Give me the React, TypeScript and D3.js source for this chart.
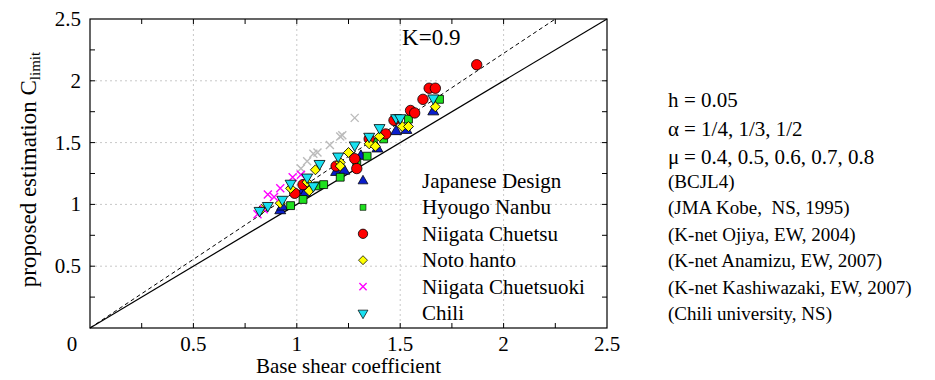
import { useEffect, useRef } from 'react';
import * as d3 from 'd3';

type Pt = [number, number];

// Base shear coefficient vs proposed estimation C_limit
const japaneseDesign: Pt[] = [
  [0.92, 0.95], [0.93, 0.98], [1.03, 1.11], [1.04, 1.09], [1.19, 1.26], [1.23, 1.27],
  [1.31, 1.39], [1.39, 1.45], [1.48, 1.59], [1.53, 1.6], [1.66, 1.75],
];
const hyougoNanbu: Pt[] = [
  [0.97, 0.99], [1.03, 1.04], [1.1, 1.15], [1.13, 1.16], [1.21, 1.22], [1.29, 1.34],
  [1.34, 1.39], [1.37, 1.5], [1.42, 1.53], [1.48, 1.69], [1.54, 1.69], [1.69, 1.85],
];
const niigataChuetsu: Pt[] = [
  [0.99, 1.09], [1.03, 1.16], [1.19, 1.31], [1.28, 1.37], [1.29, 1.29], [1.35, 1.53],
  [1.43, 1.57], [1.47, 1.68], [1.55, 1.76], [1.57, 1.74], [1.61, 1.85], [1.64, 1.94],
  [1.67, 1.94], [1.87, 2.13],
];
const notoHanto: Pt[] = [
  [0.83, 0.96], [0.92, 1.01], [0.97, 1.13], [1.05, 1.18], [1.06, 1.11], [1.09, 1.28],
  [1.21, 1.34], [1.21, 1.31], [1.25, 1.42], [1.35, 1.49], [1.38, 1.47], [1.4, 1.55],
  [1.51, 1.63], [1.54, 1.63], [1.67, 1.79],
];
const niigataChuetsuoki: Pt[] = [
  [0.81, 0.92], [0.84, 0.96], [0.86, 1.08], [0.89, 1.06], [0.92, 1.13], [0.98, 1.22], [1.02, 1.24],
];
const otherCases: Pt[] = [
  [1.02, 1.29], [1.05, 1.35], [1.08, 1.41], [1.1, 1.42], [1.16, 1.48], [1.21, 1.55],
  [1.22, 1.56], [1.28, 1.7],
];
const chili: Pt[] = [
  [0.82, 0.95], [0.86, 0.99], [0.93, 1.04], [0.97, 1.17], [1.05, 1.22], [1.08, 1.15],
  [1.11, 1.33], [1.2, 1.39], [1.28, 1.48], [1.35, 1.55], [1.4, 1.62], [1.48, 1.7],
  [1.5, 1.7], [1.66, 1.86],
];

const legendNames = ['Japanese Design', 'Hyougo Nanbu', 'Niigata Chuetsu', 'Noto hanto', 'Niigata Chuetsuoki', 'Chili'];
const legendSources = [
  '(BCJL4)', '(JMA Kobe,  NS, 1995)', '(K-net Ojiya, EW, 2004)', '(K-net Anamizu, EW, 2007)',
  '(K-net Kashiwazaki, EW, 2007)', '(Chili university, NS)',
];
const paramSymbols = ['h', 'α', 'μ'];
const paramValues = ['= 0.05', '= 1/4, 1/3, 1/2', '= 0.4, 0.5, 0.6, 0.7, 0.8'];
const majorTicks = [0.5, 1, 1.5, 2, 2.5];
const K = 0.9;

const FONT = "'Liberation Serif', 'DejaVu Serif', 'Times New Roman', serif";

export default function App() {
  const svgRef = useRef<SVGSVGElement>(null);

  useEffect(() => {
    if (!svgRef.current) return;
    document.body.style.margin = '0';
    const svg = d3.select(svgRef.current);
    svg.selectAll('*').remove();

    const left = 90, right = 607, top = 19, bottom = 328;
    const x = d3.scaleLinear().domain([0, 2.5]).range([left, right]);
    const y = d3.scaleLinear().domain([0, 2.5]).range([bottom, top]);

    const g = svg.append('g');

    // grid
    majorTicks.slice(0, -1).forEach(v => {
      g.append('line').attr('x1', x(v)).attr('x2', x(v)).attr('y1', top).attr('y2', bottom)
        .attr('stroke', '#c8c8c8').attr('stroke-dasharray', '2,3');
      g.append('line').attr('x1', left).attr('x2', right).attr('y1', y(v)).attr('y2', y(v))
        .attr('stroke', '#c8c8c8').attr('stroke-dasharray', '2,3');
    });

    // reference lines
    g.append('line').attr('x1', x(0)).attr('y1', y(0)).attr('x2', x(2.5)).attr('y2', y(2.5))
      .attr('stroke', '#000').attr('stroke-width', 1.2);
    g.append('line').attr('x1', x(0)).attr('y1', y(0)).attr('x2', x(2.5 * K)).attr('y2', y(2.5))
      .attr('stroke', '#000').attr('stroke-width', 1).attr('stroke-dasharray', '4,3');

    // frame + inward ticks
    g.append('rect').attr('x', left).attr('y', top).attr('width', right - left).attr('height', bottom - top)
      .attr('fill', 'none').attr('stroke', '#000').attr('stroke-width', 1.2);
    const minor = d3.range(0.25, 2.5, 0.25);
    const tl = 5;
    minor.forEach(v => {
      g.append('line').attr('x1', x(v)).attr('x2', x(v)).attr('y1', bottom).attr('y2', bottom - tl).attr('stroke', '#000');
      g.append('line').attr('x1', x(v)).attr('x2', x(v)).attr('y1', top).attr('y2', top + tl).attr('stroke', '#000');
      g.append('line').attr('x1', left).attr('x2', left + tl).attr('y1', y(v)).attr('y2', y(v)).attr('stroke', '#000');
      g.append('line').attr('x1', right).attr('x2', right - tl).attr('y1', y(v)).attr('y2', y(v)).attr('stroke', '#000');
    });

    const txt = (tx: number, ty: number, s: string, size = 20, anchor = 'start') =>
      svg.append('text').attr('x', tx).attr('y', ty).style('font-family', FONT).style('font-size', `${size}px`)
        .attr('text-anchor', anchor).attr('fill', '#000').text(s);

    majorTicks.forEach(v => {
      txt(x(v), 351, String(v), 21, 'middle');
      txt(81, y(v) + 7, String(v), 21, 'end');
    });
    txt(x(0) - 18, 351, '0', 21, 'middle');
    txt(x(1.25), 373, 'Base shear coefficient', 21, 'middle');

    const yl = svg.append('text').attr('transform', `translate(36,${(top + bottom) / 2 - 4}) rotate(-90)`)
      .style('font-family', FONT).style('font-size', '23px').attr('text-anchor', 'middle');
    yl.append('tspan').text('proposed estimation C');
    yl.append('tspan').style('font-size', '15px').attr('dy', 4).text('limit');

    txt(x(1.65), 45, `K=${K}`, 23, 'middle');

    // markers
    const sym = (type: d3.SymbolType, size: number) => d3.symbol().type(type).size(size)()!;
    const triUp = sym(d3.symbolTriangle, 52);
    const triDown = sym(d3.symbolTriangle, 52);
    const square = sym(d3.symbolSquare, 62);
    const diamond = sym(d3.symbolSquare, 50);

    const styles = [
      { data: otherCases, kind: 'x', color: '#bbbbbb' },
      { data: japaneseDesign, kind: 'path', d: triUp, color: '#0a1ecc', rot: 0 },
      { data: hyougoNanbu, kind: 'path', d: square, color: '#1ee01e', rot: 0 },
      { data: niigataChuetsu, kind: 'circle', color: '#ff0000' },
      { data: notoHanto, kind: 'path', d: diamond, color: '#ffff00', rot: 45 },
      { data: niigataChuetsuoki, kind: 'x', color: '#ff00ff' },
      { data: chili, kind: 'path', d: triDown, color: '#19e0f0', rot: 180 },
    ];

    const drawMarker = (sel: d3.Selection<SVGGElement, unknown, null, undefined>, st: any, px: number, py: number, scale = 1) => {
      if (st.kind === 'circle') {
        sel.append('circle').attr('cx', px).attr('cy', py).attr('r', 5.2 * scale)
          .attr('fill', st.color).attr('stroke', '#000').attr('stroke-width', 0.8);
      } else if (st.kind === 'x') {
        const s = 4 * scale;
        sel.append('path').attr('d', `M${px - s},${py - s}L${px + s},${py + s}M${px - s},${py + s}L${px + s},${py - s}`)
          .attr('stroke', st.color).attr('stroke-width', 1.4).attr('fill', 'none');
      } else {
        sel.append('path').attr('d', st.d)
          .attr('transform', `translate(${px},${py}) rotate(${st.rot}) scale(${scale})`)
          .attr('fill', st.color).attr('stroke', '#000').attr('stroke-width', 0.8);
      }
    };

    const mg = svg.append('g');
    styles.forEach(st => st.data.forEach(([dx, dy]) => drawMarker(mg, st, x(dx), y(dy))));

    // legend
    const lg = svg.append('g');
    const legendStyles = styles.slice(1);
    legendNames.forEach((name, i) => {
      const ly = 181 + i * 26.4;
      drawMarker(lg, legendStyles[i], 363, ly, i === 1 ? 0.75 : 0.9);
      txt(422, ly + 7, name, 21);
      txt(668, ly + 7, legendSources[i], 19).style('white-space', 'pre');
    });

    paramSymbols.forEach((s, i) => {
      const py = 107 + i * 28.5;
      txt(668, py, s, 21);
      txt(684, py, paramValues[i], 21);
    });
  }, []);

  return <svg ref={svgRef} width={935} height={380} style={{ display: 'block' }} />;
}
